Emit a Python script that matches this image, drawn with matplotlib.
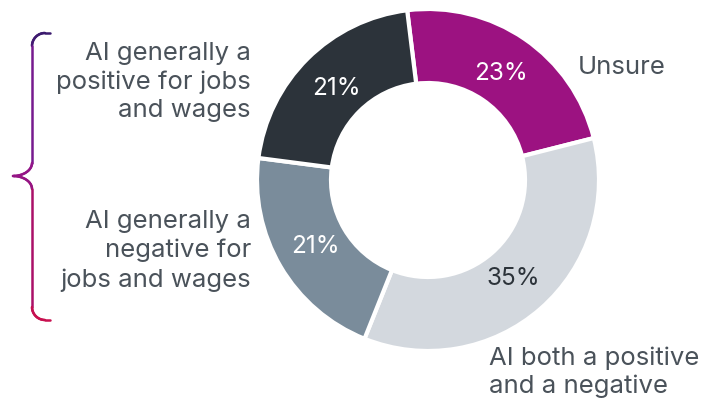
import numpy as np
import matplotlib.pyplot as plt
from matplotlib.collections import LineCollection
from matplotlib.colors import LinearSegmentedColormap

# andelar i diagrammet, medurs från toppen
kategorier = ["Unsure", "AI both a positive\nand a negative",
              "AI generally a\nnegative for\njobs and wages",
              "AI generally a\npositive for jobs\nand wages"]
andelar = [23, 35, 21, 21]
farger = ["#9c1281", "#d3d8de", "#7a8c9b", "#2c333a"]
textfarger = ["white", "#2c333a", "white", "white"]

plt.rcParams['font.family'] = ['Inter', 'DejaVu Sans']
textfarg = '#4a525a'
vikt = 'normal'

fig = plt.figure(figsize=(7.22, 4.02), dpi=100)
ax = fig.add_axes([0, 0, 1, 1])

wedges, texter, pct = ax.pie(
    andelar, colors=farger, startangle=97, counterclock=False,
    center=(428, 221), radius=171, autopct='%d%%', pctdistance=0.76,
    wedgeprops=dict(width=74, edgecolor='white', linewidth=3),
    textprops=dict(fontsize=17.5, fontweight=vikt))
for t, c in zip(pct, textfarger):
    t.set_color(c)
ax.set_xlim(0, 722)
ax.set_ylim(0, 402)
ax.set_aspect('equal')
ax.axis('off')

# etiketterna
ax.text(578, 334, kategorier[0], fontsize=18.5, fontweight=vikt, color=textfarg, va='center', ha='left')
ax.text(489, 30, kategorier[1], fontsize=18.5, fontweight=vikt, color=textfarg, va='center', ha='left',
        linespacing=1.25)
ax.text(251, 151, kategorier[2], fontsize=18.5, fontweight=vikt, color=textfarg, va='center', ha='right',
        linespacing=1.3)
ax.text(251, 320, kategorier[3], fontsize=18.5, fontweight=vikt, color=textfarg, va='center', ha='right',
        linespacing=1.3)

# klammern till vänster med färgövergång
topp, botten, mitt = 402 - 34, 402 - 321, 402 - 177
xl, xs, xt = 32, 50, 13
r = 13
pts = [(xs, topp)]
for a in np.linspace(0, np.pi / 2, 20):
    pts.append((xl + r * (1 - np.sin(a)), topp - r * (1 - np.cos(a))))
for a in np.linspace(0, np.pi / 2, 20):
    pts.append((xl - (xl - xt) * (1 - np.cos(a)), mitt + r * (1 - np.sin(a))))
for a in np.linspace(np.pi / 2, 0, 20):
    pts.append((xl - (xl - xt) * (1 - np.cos(a)), mitt - r * (1 - np.sin(a))))
for a in np.linspace(np.pi / 2, 0, 20):
    pts.append((xl + r * (1 - np.sin(a)), botten + r * (1 - np.cos(a))))
pts.append((xs, botten))
pts = np.array(pts)
seg = np.stack([pts[:-1], pts[1:]], axis=1)
cmap = LinearSegmentedColormap.from_list('klammer', ['#3b1a6e', '#8a1a9a', '#a01070', '#c8104f'])
lc = LineCollection(seg, cmap=cmap, linewidth=1.8, capstyle='round')
lc.set_array((topp - seg[:, :, 1].mean(axis=1)) / (topp - botten))
lc.set_clim(0, 1)
ax.add_collection(lc)

plt.savefig("out.png", dpi=100)
